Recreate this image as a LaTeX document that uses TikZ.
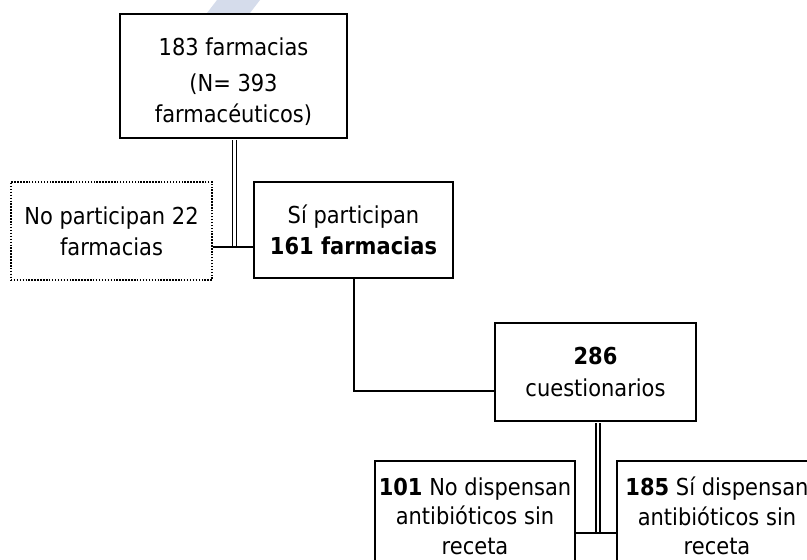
\documentclass[tikz,border=0pt]{standalone}
\usepackage{fontspec}
\setmainfont{DejaVu Sans Condensed}
\usepackage{tikz}

\definecolor{wmark}{RGB}{213,220,235}

\tikzset{
  box/.style={draw, line width=1.4pt, align=center, inner sep=0pt,
    font=\fontsize{17.5}{23.5}\selectfont},
  dotbox/.style={box, line width=1.1pt, dash pattern=on 1.1pt off 1.1pt},
  link/.style={line width=1pt},
  dlink/.style={double, double distance=2pt, line width=0.9pt, shorten <=0.7pt}
}

\begin{document}
\begin{tikzpicture}[x=0.75pt,y=-0.75pt]
  \useasboundingbox (0,0) rectangle (807,560);
  \fill[wmark] (217,0) -- (260,0) -- (250,13) -- (207,13) -- cycle;

  \node[box, minimum width=170pt, minimum height=93pt] (farmacias) at (233.5,76)
    {\rule{0pt}{22pt}183 farmacias\\[3pt](N= 393\\farmacéuticos)};
  \node[dotbox, minimum width=151pt, minimum height=73.5pt] (noparticipan) at (111.5,231)
    {No participan 22\\farmacias};
  \node[box, minimum width=149pt, minimum height=72pt] (siparticipan) at (353.5,230)
    {Sí participan\\\textbf{161 farmacias}};
  \node[box, minimum width=151pt, minimum height=74pt] (cuestionarios) at (595.5,372)
    {\textbf{286}\\cuestionarios};
  \node[box, minimum width=150pt, minimum height=82.5pt, font=\fontsize{17.5}{22}\selectfont]
    (nodispensan) at (475,516) {\textbf{101} No dispensan\\antibióticos sin\\receta};
  \node[box, minimum width=150pt, minimum height=82.5pt, font=\fontsize{17.5}{22}\selectfont]
    (sidispensan) at (717,516) {\textbf{185} Sí dispensan\\antibióticos sin\\receta};

  % participacion
  \coordinate (j1) at (234.5,247);
  \draw[dlink] (farmacias.south -| j1) -- (j1);
  \draw[link] (noparticipan.east |- j1) -- (siparticipan.west |- j1);

  \coordinate (j2) at (354,391);
  \draw[link] (siparticipan.south -| j2) |- (cuestionarios.west |- j2);

  % dispensacion
  \coordinate (j3) at (598,533);
  \draw[dlink] (cuestionarios.south -| j3) -- (j3);
  \draw[link] (nodispensan.east |- j3) -- (sidispensan.west |- j3);
\end{tikzpicture}
\end{document}
